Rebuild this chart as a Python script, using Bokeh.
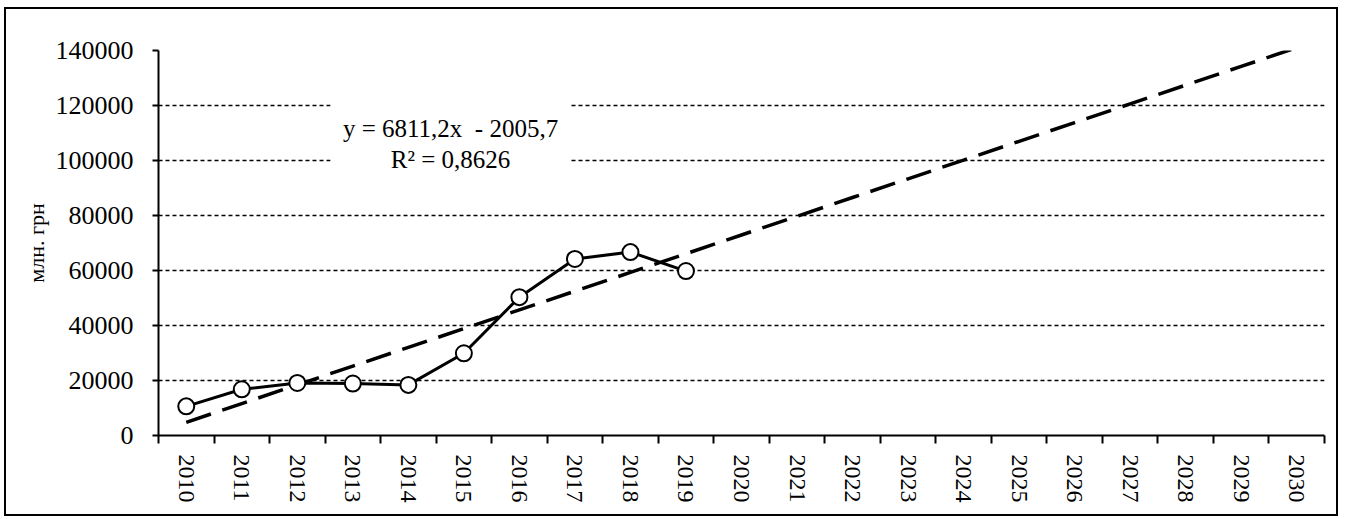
from bokeh.plotting import figure
from bokeh.models import Range1d, FixedTicker, Label, BoxAnnotation
from bokeh.embed import file_html
from bokeh.resources import INLINE

years = [2010, 2011, 2012, 2013, 2014, 2015, 2016, 2017, 2018, 2019]
values = [10600, 16800, 19100, 18900, 18400, 29900, 50300, 64200, 66700, 59800]
axis_years = list(range(2010, 2031))
y_ticks = [0, 20000, 40000, 60000, 80000, 100000, 120000, 140000]
trend_slope = 6811.2
trend_intercept = -2005.7
equation_text = "y = 6811,2x\u00a0\u00a0- 2005,7"
r2_text = "R² = 0,8626"
y_label = "млн. грн"

trend_x = axis_years
trend_y = [trend_slope * (yr - axis_years[0] + 1) + trend_intercept for yr in axis_years]

FONT = "Liberation Serif"

p = figure(width=1334, height=509, output_backend="svg", toolbar_location=None,
           x_range=Range1d(axis_years[0] - 0.5, axis_years[-1] + 0.5),
           y_range=Range1d(0, 140000),
           min_border_left=152, min_border_top=41, min_border_right=16, min_border_bottom=83)
p.outline_line_color = None
p.styles = {"border": "2px solid black", "margin-left": "4px", "margin-top": "7px"}

# x axis: labels at centers, minor ticks at boundaries
p.xaxis.ticker = FixedTicker(ticks=axis_years,
                             minor_ticks=[y - 0.5 for y in axis_years] + [axis_years[-1] + 0.5])
p.xaxis.major_label_overrides = {yr: str(yr) for yr in axis_years}
p.xaxis.major_tick_out = 0
p.xaxis.major_tick_in = 0
p.xaxis.minor_tick_out = 8
p.xaxis.minor_tick_in = 0
p.xaxis.minor_tick_line_color = "black"
p.xaxis.minor_tick_line_width = 2
p.xaxis.major_label_orientation = "vertical"
p.xaxis.major_label_standoff = 11
p.xaxis.axis_line_width = 2
p.xaxis.axis_line_color = "black"
p.xaxis.major_label_text_font = FONT
p.xaxis.major_label_text_font_size = "24px"
p.xaxis.major_label_text_color = "black"

p.yaxis.ticker = FixedTicker(ticks=y_ticks)
p.yaxis.formatter.use_scientific = False
p.yaxis.major_tick_out = 6
p.yaxis.major_tick_in = 0
p.yaxis.minor_tick_out = 0
p.yaxis.minor_tick_in = 0
p.yaxis.major_tick_line_width = 2
p.yaxis.axis_line_width = 2
p.yaxis.axis_line_color = "black"
p.yaxis.major_label_standoff = 19
p.yaxis.major_label_text_font = FONT
p.yaxis.major_label_text_font_size = "26px"
p.yaxis.major_label_text_color = "black"
p.yaxis.axis_label = y_label
p.yaxis.axis_label_text_font = FONT
p.yaxis.axis_label_text_font_size = "22px"
p.yaxis.axis_label_text_font_style = "normal"
p.yaxis.axis_label_text_color = "black"
p.yaxis.axis_label_standoff = 4

p.xgrid.grid_line_color = None
p.ygrid.grid_line_color = "black"
p.ygrid.grid_line_dash = "4 3"
p.ygrid.grid_line_width = 1.5

# equation label background
p.add_layout(BoxAnnotation(left=2012.6, right=2016.92, bottom=95000, top=121500,
                           fill_color="white", fill_alpha=1.0, line_color=None, level="overlay"))

p.line(trend_x, trend_y, line_color="black", line_width=3.5, line_dash="26 12")
p.line(years, values, line_color="black", line_width=3)
p.scatter(years, values, size=16, marker="circle", fill_color="white",
          line_color="black", line_width=2)

eq_x = 2014.76
p.add_layout(Label(x=eq_x, y=111500, text=equation_text, text_align="center",
                   text_baseline="middle", text_font=FONT, text_font_size="25px",
                   text_color="black", level="overlay"))
p.add_layout(Label(x=eq_x, y=100500, text=r2_text, text_align="center",
                   text_baseline="middle", text_font=FONT, text_font_size="25px",
                   text_color="black", level="overlay"))

open("out.html", "w").write(file_html(p, INLINE))
